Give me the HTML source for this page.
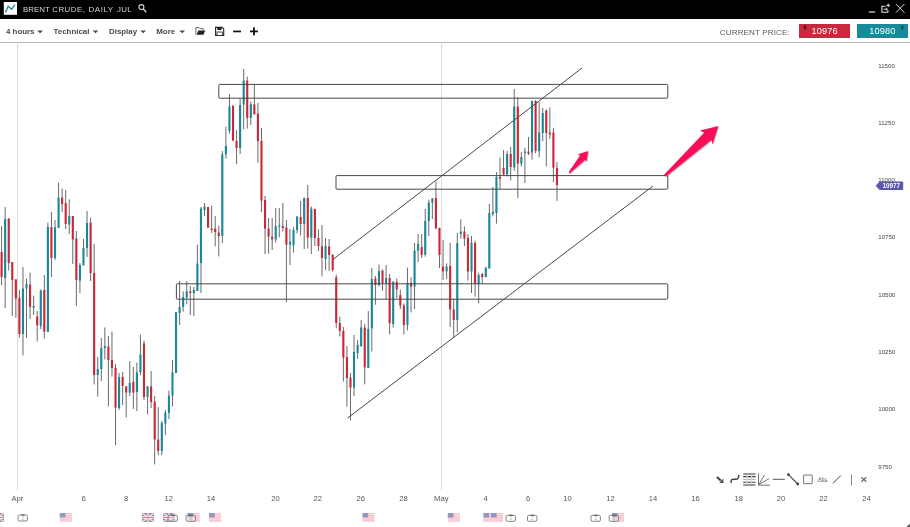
<!DOCTYPE html>
<html><head><meta charset="utf-8"><title>Brent Crude</title>
<style>
html,body{margin:0;padding:0;background:#fff;}
body{width:910px;height:527px;overflow:hidden;position:relative;opacity:0.999;font-family:"Liberation Sans",sans-serif;}
#hdr{position:absolute;left:0;top:0;width:910px;height:19.4px;background:#000;}
#ttl span{position:absolute;top:4.3px;font-size:7.9px;line-height:11px;color:#d4d4d4;white-space:nowrap;}
#tb{position:absolute;left:0;top:19.4px;width:910px;height:23px;background:#fff;border-bottom:1.3px solid #b9b9b9;}
.mi{position:absolute;top:27px;font-size:7.9px;line-height:10px;font-weight:bold;color:#4a4a4a;white-space:nowrap;}
#cp{position:absolute;left:719.8px;top:27.6px;font-size:8.1px;line-height:10px;color:#5a5a5a;letter-spacing:0.1px;white-space:nowrap;}
.pb{position:absolute;top:23.7px;height:14.1px;width:51.2px;color:#fff;font-size:9.2px;line-height:14.1px;text-align:center;letter-spacing:0.15px;}
svg{position:absolute;left:0;top:0;}
svg text{font-family:"Liberation Sans",sans-serif;}
</style></head><body>
<div id="hdr"></div>
<div id="ttl"><span style="left:23px">BRENT</span><span style="left:52.2px;letter-spacing:0.5px">CRUDE,</span><span style="left:88.5px;letter-spacing:0.6px">DAILY</span><span style="left:116.9px;letter-spacing:0.4px">JUL</span></div>
<div id="tb"></div>
<div class="mi" style="left:6px">4 hours</div>
<div class="mi" style="left:53.6px">Technical</div>
<div class="mi" style="left:109px">Display</div>
<div class="mi" style="left:156.3px">More</div>
<div id="cp">CURRENT PRICE:</div>
<div class="pb" style="left:799px;background:#c9293d;">10976</div>
<div class="pb" style="left:856.7px;background:#188b9b;">10980</div>
<svg width="910" height="527" viewBox="0 0 910 527">
<!-- logo -->
<rect x="3.8" y="2" width="13.2" height="12.8" fill="#fff"/>
<path d="M5.4 12.5L8.2 6.3L11.7 9.2L15 4.5" fill="none" stroke="#17899b" stroke-width="1.3"/>
<!-- search -->
<circle cx="141.4" cy="7.1" r="2.5" fill="none" stroke="#d4d4d4" stroke-width="1.1"/>
<path d="M143.3 9.1L146.3 12.2" stroke="#d4d4d4" stroke-width="1.4"/>
<!-- window controls -->
<path d="M868.8 12H875.2" stroke="#ddd" stroke-width="1.2"/>
<path d="M885.5 6.3H881.9V12.2H887.9V10.2" fill="none" stroke="#ddd" stroke-width="1.1"/>
<path d="M883.6 9.2H887.2M885.9 7.8L887.4 9.2L885.9 10.6" fill="none" stroke="#ddd" stroke-width="1"/>
<path d="M888.2 3.6V7.2M886.4 5.4H890" stroke="#ddd" stroke-width="1"/>
<path d="M896 4.1L904.4 12.6M904.4 4.1L896 12.6" stroke="#ddd" stroke-width="1"/>
<!-- carets -->
<g fill="#4a4a4a"><path d="M37.2 30.4H43L40.1 33.3Z"/><path d="M92.6 30.4H98.4L95.5 33.3Z"/><path d="M140.3 30.4H146.1L143.2 33.3Z"/><path d="M179.3 30.4H185.1L182.2 33.3Z"/></g>
<!-- folder -->
<path d="M195.9 34.6V27.6H199L199.9 28.6H203.2V30" fill="none" stroke="#555" stroke-width="0.9"/>
<path d="M196.6 34.8L198.3 30.6H205.3L203.4 34.8Z" fill="#222"/>
<!-- save -->
<path d="M215.6 27.4H222.2L223.7 28.9V35.4H215.6Z" fill="#fff" stroke="#222" stroke-width="1.1"/>
<rect x="217.3" y="27.4" width="4.3" height="2.6" fill="#222"/>
<rect x="217" y="32" width="5.3" height="3.4" fill="#fff" stroke="#222" stroke-width="0.8"/>
<!-- minus plus -->
<rect x="233.1" y="30.6" width="7.9" height="1.7" fill="#111"/>
<rect x="250" y="30.5" width="7.9" height="1.8" fill="#111"/><rect x="253.05" y="27.3" width="1.8" height="8.1" fill="#111"/>
<!-- price box arrows -->
<path d="M804.2 25V27.2H802.9L805 29.7L807.1 27.2H805.8V25Z" fill="#5a1520"/>
<path d="M901.5 30V27.6H900.2L902.3 25L904.4 27.6H903.1V30Z" fill="#0d4a55"/>
<!-- grid lines -->
<rect x="17" y="43.5" width="1" height="447" fill="#dcdcdc"/>
<rect x="441" y="43.5" width="1" height="447" fill="#dcdcdc"/>
<!-- candles -->
<g fill="#6a6a6a"><rect x="1.10" y="226.0" width="1" height="59.0"/><rect x="4.66" y="207.0" width="1" height="101.0"/><rect x="8.22" y="218.0" width="1" height="52.6"/><rect x="11.78" y="262.0" width="1" height="54.0"/><rect x="15.34" y="279.0" width="1" height="38.6"/><rect x="18.90" y="290.0" width="1" height="47.6"/><rect x="22.46" y="267.0" width="1" height="88.6"/><rect x="26.02" y="278.6" width="1" height="59.4"/><rect x="29.58" y="272.6" width="1" height="46.4"/><rect x="33.14" y="295.6" width="1" height="19.4"/><rect x="36.70" y="311.0" width="1" height="30.6"/><rect x="40.26" y="289.4" width="1" height="39.6"/><rect x="43.82" y="275.0" width="1" height="63.6"/><rect x="47.38" y="222.6" width="1" height="109.4"/><rect x="50.94" y="212.0" width="1" height="65.0"/><rect x="54.50" y="220.0" width="1" height="40.0"/><rect x="58.06" y="182.6" width="1" height="45.4"/><rect x="61.62" y="188.6" width="1" height="23.4"/><rect x="65.18" y="190.0" width="1" height="39.0"/><rect x="68.74" y="199.4" width="1" height="34.6"/><rect x="72.30" y="216.0" width="1" height="48.0"/><rect x="75.86" y="231.0" width="1" height="75.0"/><rect x="79.42" y="263.0" width="1" height="30.0"/><rect x="82.98" y="239.0" width="1" height="26.4"/><rect x="86.54" y="211.0" width="1" height="46.0"/><rect x="90.10" y="217.6" width="1" height="63.4"/><rect x="93.66" y="244.0" width="1" height="140.4"/><rect x="97.22" y="357.0" width="1" height="39.6"/><rect x="100.78" y="338.0" width="1" height="43.0"/><rect x="104.34" y="327.4" width="1" height="32.0"/><rect x="107.90" y="336.0" width="1" height="70.4"/><rect x="111.46" y="331.6" width="1" height="45.0"/><rect x="115.02" y="364.0" width="1" height="81.0"/><rect x="118.58" y="373.0" width="1" height="37.0"/><rect x="122.14" y="372.0" width="1" height="33.0"/><rect x="125.70" y="386.0" width="1" height="31.4"/><rect x="129.26" y="361.0" width="1" height="35.0"/><rect x="132.82" y="367.0" width="1" height="42.0"/><rect x="136.38" y="362.6" width="1" height="48.4"/><rect x="139.94" y="334.6" width="1" height="40.4"/><rect x="143.50" y="340.6" width="1" height="59.4"/><rect x="147.06" y="386.0" width="1" height="28.4"/><rect x="150.62" y="371.0" width="1" height="37.0"/><rect x="154.18" y="396.0" width="1" height="68.4"/><rect x="157.74" y="407.0" width="1" height="48.0"/><rect x="161.30" y="421.0" width="1" height="34.0"/><rect x="164.86" y="410.0" width="1" height="25.0"/><rect x="168.42" y="390.6" width="1" height="28.4"/><rect x="171.98" y="360.0" width="1" height="46.6"/><rect x="175.54" y="312.0" width="1" height="61.0"/><rect x="179.10" y="281.0" width="1" height="44.0"/><rect x="182.66" y="291.4" width="1" height="20.2"/><rect x="186.22" y="281.0" width="1" height="23.4"/><rect x="189.78" y="286.0" width="1" height="29.0"/><rect x="193.34" y="287.0" width="1" height="29.0"/><rect x="196.90" y="244.6" width="1" height="46.4"/><rect x="200.46" y="207.0" width="1" height="86.0"/><rect x="204.02" y="203.0" width="1" height="13.0"/><rect x="207.58" y="207.0" width="1" height="21.0"/><rect x="211.14" y="205.6" width="1" height="27.4"/><rect x="214.70" y="216.0" width="1" height="30.4"/><rect x="218.26" y="225.6" width="1" height="30.8"/><rect x="221.82" y="151.0" width="1" height="92.0"/><rect x="225.38" y="126.6" width="1" height="32.0"/><rect x="228.94" y="94.0" width="1" height="39.6"/><rect x="232.50" y="105.0" width="1" height="36.0"/><rect x="236.06" y="130.0" width="1" height="34.0"/><rect x="239.62" y="98.4" width="1" height="55.6"/><rect x="243.18" y="69.0" width="1" height="60.4"/><rect x="246.74" y="76.6" width="1" height="52.0"/><rect x="250.30" y="101.6" width="1" height="23.4"/><rect x="253.86" y="84.0" width="1" height="31.0"/><rect x="257.42" y="103.0" width="1" height="59.6"/><rect x="260.98" y="128.0" width="1" height="84.0"/><rect x="264.54" y="196.0" width="1" height="58.0"/><rect x="268.10" y="218.0" width="1" height="35.6"/><rect x="271.66" y="218.0" width="1" height="32.0"/><rect x="275.22" y="208.0" width="1" height="34.6"/><rect x="278.78" y="208.0" width="1" height="29.4"/><rect x="282.34" y="203.0" width="1" height="28.6"/><rect x="285.90" y="220.0" width="1" height="82.4"/><rect x="289.46" y="229.0" width="1" height="36.0"/><rect x="293.02" y="227.0" width="1" height="25.6"/><rect x="296.58" y="216.0" width="1" height="17.4"/><rect x="300.14" y="201.0" width="1" height="34.6"/><rect x="303.70" y="197.4" width="1" height="51.6"/><rect x="307.26" y="185.0" width="1" height="63.6"/><rect x="310.82" y="206.6" width="1" height="47.4"/><rect x="314.38" y="208.6" width="1" height="37.4"/><rect x="317.94" y="229.4" width="1" height="21.6"/><rect x="321.50" y="225.0" width="1" height="51.4"/><rect x="325.06" y="238.0" width="1" height="32.0"/><rect x="328.62" y="239.0" width="1" height="32.0"/><rect x="332.18" y="254.0" width="1" height="17.6"/><rect x="335.74" y="274.6" width="1" height="53.8"/><rect x="339.30" y="316.6" width="1" height="19.8"/><rect x="342.86" y="327.0" width="1" height="54.6"/><rect x="346.42" y="346.0" width="1" height="60.6"/><rect x="349.98" y="373.0" width="1" height="47.4"/><rect x="353.54" y="335.0" width="1" height="61.0"/><rect x="357.10" y="340.0" width="1" height="19.0"/><rect x="360.66" y="320.0" width="1" height="27.0"/><rect x="364.22" y="324.0" width="1" height="60.4"/><rect x="367.78" y="311.0" width="1" height="57.0"/><rect x="371.34" y="268.0" width="1" height="83.6"/><rect x="374.90" y="276.0" width="1" height="28.6"/><rect x="378.46" y="264.6" width="1" height="22.0"/><rect x="382.02" y="269.4" width="1" height="21.2"/><rect x="385.58" y="265.0" width="1" height="34.4"/><rect x="389.14" y="274.0" width="1" height="60.4"/><rect x="392.70" y="281.0" width="1" height="46.6"/><rect x="396.26" y="278.6" width="1" height="19.4"/><rect x="399.82" y="289.4" width="1" height="19.6"/><rect x="403.38" y="303.4" width="1" height="31.0"/><rect x="406.94" y="267.6" width="1" height="62.8"/><rect x="410.50" y="277.4" width="1" height="35.0"/><rect x="414.06" y="243.0" width="1" height="66.0"/><rect x="417.62" y="234.0" width="1" height="28.0"/><rect x="421.18" y="234.0" width="1" height="24.0"/><rect x="424.74" y="209.0" width="1" height="47.6"/><rect x="428.30" y="199.6" width="1" height="36.4"/><rect x="431.86" y="198.0" width="1" height="21.0"/><rect x="435.42" y="181.6" width="1" height="47.4"/><rect x="438.98" y="227.6" width="1" height="40.4"/><rect x="442.54" y="240.0" width="1" height="40.0"/><rect x="446.10" y="263.4" width="1" height="15.6"/><rect x="449.66" y="243.0" width="1" height="84.0"/><rect x="453.22" y="298.6" width="1" height="39.0"/><rect x="456.78" y="233.0" width="1" height="99.4"/><rect x="460.34" y="219.4" width="1" height="19.2"/><rect x="463.90" y="226.4" width="1" height="19.6"/><rect x="467.46" y="234.0" width="1" height="46.6"/><rect x="471.02" y="236.0" width="1" height="57.0"/><rect x="474.58" y="240.6" width="1" height="56.0"/><rect x="478.14" y="272.6" width="1" height="30.8"/><rect x="481.70" y="273.0" width="1" height="11.0"/><rect x="485.26" y="266.6" width="1" height="10.8"/><rect x="488.82" y="204.0" width="1" height="64.6"/><rect x="492.38" y="187.0" width="1" height="29.4"/><rect x="495.94" y="172.0" width="1" height="51.6"/><rect x="499.50" y="157.5" width="1" height="31.5"/><rect x="503.06" y="150.0" width="1" height="25.0"/><rect x="506.62" y="151.0" width="1" height="25.4"/><rect x="510.18" y="147.0" width="1" height="33.4"/><rect x="513.74" y="89.0" width="1" height="81.6"/><rect x="517.30" y="97.4" width="1" height="100.6"/><rect x="520.86" y="152.0" width="1" height="14.6"/><rect x="524.42" y="147.7" width="1" height="35.3"/><rect x="527.98" y="137.0" width="1" height="18.0"/><rect x="531.54" y="100.6" width="1" height="59.0"/><rect x="535.10" y="100.0" width="1" height="53.3"/><rect x="538.66" y="102.0" width="1" height="55.4"/><rect x="542.22" y="108.0" width="1" height="33.2"/><rect x="545.78" y="109.4" width="1" height="57.0"/><rect x="549.34" y="107.4" width="1" height="31.6"/><rect x="552.90" y="128.0" width="1" height="54.4"/><rect x="556.46" y="162.0" width="1" height="39.0"/></g>
<g><rect x="0.55" y="252.0" width="2.1" height="25.0" fill="#cc2637"/><rect x="4.11" y="219.0" width="2.1" height="59.0" fill="#17899b"/><rect x="7.67" y="218.6" width="2.1" height="44.4" fill="#cc2637"/><rect x="11.23" y="262.0" width="2.1" height="18.0" fill="#cc2637"/><rect x="14.79" y="279.5" width="2.1" height="19.1" fill="#cc2637"/><rect x="18.35" y="298.0" width="2.1" height="36.0" fill="#cc2637"/><rect x="21.91" y="288.6" width="2.1" height="45.4" fill="#17899b"/><rect x="25.47" y="284.0" width="2.1" height="4.6" fill="#17899b"/><rect x="29.03" y="284.6" width="2.1" height="22.4" fill="#cc2637"/><rect x="32.59" y="306.0" width="2.1" height="1.6" fill="#17899b"/><rect x="36.15" y="316.4" width="2.1" height="9.0" fill="#cc2637"/><rect x="39.71" y="290.6" width="2.1" height="35.4" fill="#17899b"/><rect x="43.27" y="290.0" width="2.1" height="41.6" fill="#cc2637"/><rect x="46.83" y="227.0" width="2.1" height="105.0" fill="#17899b"/><rect x="50.39" y="227.0" width="2.1" height="31.0" fill="#cc2637"/><rect x="53.95" y="227.4" width="2.1" height="30.6" fill="#17899b"/><rect x="57.51" y="197.6" width="2.1" height="30.4" fill="#17899b"/><rect x="61.07" y="197.6" width="2.1" height="6.4" fill="#cc2637"/><rect x="64.63" y="203.0" width="2.1" height="21.0" fill="#cc2637"/><rect x="68.19" y="216.0" width="2.1" height="8.6" fill="#17899b"/><rect x="71.75" y="216.0" width="2.1" height="23.4" fill="#cc2637"/><rect x="75.31" y="238.6" width="2.1" height="41.4" fill="#cc2637"/><rect x="78.87" y="265.0" width="2.1" height="15.6" fill="#17899b"/><rect x="82.43" y="248.0" width="2.1" height="17.4" fill="#17899b"/><rect x="85.99" y="223.0" width="2.1" height="25.0" fill="#17899b"/><rect x="89.55" y="222.6" width="2.1" height="50.4" fill="#cc2637"/><rect x="93.11" y="273.0" width="2.1" height="102.0" fill="#cc2637"/><rect x="96.67" y="369.0" width="2.1" height="6.0" fill="#17899b"/><rect x="100.23" y="348.0" width="2.1" height="21.0" fill="#17899b"/><rect x="103.79" y="346.0" width="2.1" height="2.0" fill="#17899b"/><rect x="107.35" y="346.6" width="2.1" height="13.4" fill="#cc2637"/><rect x="110.91" y="360.0" width="2.1" height="8.0" fill="#cc2637"/><rect x="114.47" y="368.0" width="2.1" height="39.6" fill="#cc2637"/><rect x="118.03" y="377.0" width="2.1" height="31.0" fill="#17899b"/><rect x="121.59" y="377.0" width="2.1" height="9.0" fill="#cc2637"/><rect x="125.15" y="386.4" width="2.1" height="6.2" fill="#cc2637"/><rect x="128.71" y="383.0" width="2.1" height="9.6" fill="#17899b"/><rect x="132.27" y="382.0" width="2.1" height="10.6" fill="#cc2637"/><rect x="135.83" y="372.4" width="2.1" height="19.6" fill="#17899b"/><rect x="139.39" y="354.6" width="2.1" height="17.8" fill="#17899b"/><rect x="142.95" y="343.4" width="2.1" height="53.6" fill="#cc2637"/><rect x="146.51" y="386.4" width="2.1" height="10.6" fill="#17899b"/><rect x="150.07" y="386.4" width="2.1" height="15.6" fill="#cc2637"/><rect x="153.63" y="401.6" width="2.1" height="38.0" fill="#cc2637"/><rect x="157.19" y="439.6" width="2.1" height="11.4" fill="#cc2637"/><rect x="160.75" y="423.0" width="2.1" height="28.0" fill="#17899b"/><rect x="164.31" y="412.6" width="2.1" height="11.0" fill="#17899b"/><rect x="167.87" y="395.6" width="2.1" height="17.4" fill="#17899b"/><rect x="171.43" y="372.4" width="2.1" height="23.2" fill="#17899b"/><rect x="174.99" y="312.4" width="2.1" height="60.6" fill="#17899b"/><rect x="178.55" y="307.0" width="2.1" height="6.0" fill="#17899b"/><rect x="182.11" y="297.0" width="2.1" height="10.0" fill="#17899b"/><rect x="185.67" y="291.4" width="2.1" height="6.0" fill="#17899b"/><rect x="189.23" y="291.4" width="2.1" height="1.6" fill="#cc2637"/><rect x="192.79" y="290.0" width="2.1" height="3.0" fill="#17899b"/><rect x="196.35" y="263.6" width="2.1" height="27.4" fill="#17899b"/><rect x="199.91" y="208.6" width="2.1" height="54.4" fill="#17899b"/><rect x="203.47" y="206.6" width="2.1" height="3.4" fill="#17899b"/><rect x="207.03" y="207.0" width="2.1" height="20.6" fill="#cc2637"/><rect x="210.59" y="228.6" width="2.1" height="1.4" fill="#cc2637"/><rect x="214.15" y="228.6" width="2.1" height="3.4" fill="#cc2637"/><rect x="217.71" y="232.6" width="2.1" height="3.4" fill="#cc2637"/><rect x="221.27" y="154.4" width="2.1" height="81.6" fill="#17899b"/><rect x="224.83" y="146.0" width="2.1" height="8.4" fill="#17899b"/><rect x="228.39" y="106.4" width="2.1" height="24.6" fill="#17899b"/><rect x="231.95" y="106.0" width="2.1" height="34.6" fill="#cc2637"/><rect x="235.51" y="141.0" width="2.1" height="7.0" fill="#cc2637"/><rect x="239.07" y="105.0" width="2.1" height="43.0" fill="#17899b"/><rect x="242.63" y="80.6" width="2.1" height="23.8" fill="#17899b"/><rect x="246.19" y="80.6" width="2.1" height="37.4" fill="#cc2637"/><rect x="249.75" y="104.4" width="2.1" height="13.6" fill="#17899b"/><rect x="253.31" y="104.4" width="2.1" height="9.6" fill="#cc2637"/><rect x="256.87" y="113.6" width="2.1" height="27.4" fill="#cc2637"/><rect x="260.43" y="141.0" width="2.1" height="59.6" fill="#cc2637"/><rect x="263.99" y="200.0" width="2.1" height="28.6" fill="#cc2637"/><rect x="267.55" y="228.6" width="2.1" height="8.0" fill="#cc2637"/><rect x="271.11" y="236.6" width="2.1" height="2.8" fill="#cc2637"/><rect x="274.67" y="226.0" width="2.1" height="13.4" fill="#17899b"/><rect x="278.23" y="225.4" width="2.1" height="1.2" fill="#17899b"/><rect x="281.79" y="226.0" width="2.1" height="2.0" fill="#cc2637"/><rect x="285.35" y="227.4" width="2.1" height="17.2" fill="#cc2637"/><rect x="288.91" y="241.6" width="2.1" height="3.0" fill="#17899b"/><rect x="292.47" y="230.0" width="2.1" height="15.4" fill="#17899b"/><rect x="296.03" y="216.6" width="2.1" height="13.4" fill="#17899b"/><rect x="299.59" y="217.0" width="2.1" height="7.0" fill="#cc2637"/><rect x="303.15" y="198.0" width="2.1" height="26.0" fill="#17899b"/><rect x="306.71" y="198.0" width="2.1" height="39.6" fill="#cc2637"/><rect x="310.27" y="208.6" width="2.1" height="29.0" fill="#17899b"/><rect x="313.83" y="209.0" width="2.1" height="29.0" fill="#cc2637"/><rect x="317.39" y="238.0" width="2.1" height="8.0" fill="#cc2637"/><rect x="320.95" y="246.4" width="2.1" height="11.6" fill="#cc2637"/><rect x="324.51" y="246.0" width="2.1" height="13.0" fill="#17899b"/><rect x="328.07" y="246.4" width="2.1" height="8.6" fill="#cc2637"/><rect x="331.63" y="255.0" width="2.1" height="15.0" fill="#cc2637"/><rect x="335.19" y="277.4" width="2.1" height="45.6" fill="#cc2637"/><rect x="338.75" y="323.0" width="2.1" height="8.0" fill="#cc2637"/><rect x="342.31" y="331.0" width="2.1" height="26.6" fill="#cc2637"/><rect x="345.87" y="357.0" width="2.1" height="21.0" fill="#cc2637"/><rect x="349.43" y="377.6" width="2.1" height="10.0" fill="#cc2637"/><rect x="352.99" y="352.0" width="2.1" height="35.6" fill="#17899b"/><rect x="356.55" y="345.0" width="2.1" height="8.0" fill="#17899b"/><rect x="360.11" y="327.6" width="2.1" height="18.4" fill="#17899b"/><rect x="363.67" y="327.6" width="2.1" height="39.8" fill="#cc2637"/><rect x="367.23" y="329.0" width="2.1" height="39.0" fill="#17899b"/><rect x="370.79" y="279.0" width="2.1" height="49.4" fill="#17899b"/><rect x="374.35" y="278.6" width="2.1" height="6.4" fill="#cc2637"/><rect x="377.91" y="271.0" width="2.1" height="14.0" fill="#17899b"/><rect x="381.47" y="270.6" width="2.1" height="12.4" fill="#cc2637"/><rect x="385.03" y="278.0" width="2.1" height="5.0" fill="#17899b"/><rect x="388.59" y="278.0" width="2.1" height="45.0" fill="#cc2637"/><rect x="392.15" y="282.0" width="2.1" height="42.0" fill="#17899b"/><rect x="395.71" y="282.0" width="2.1" height="7.4" fill="#cc2637"/><rect x="399.27" y="295.0" width="2.1" height="10.6" fill="#cc2637"/><rect x="402.83" y="305.6" width="2.1" height="19.4" fill="#cc2637"/><rect x="406.39" y="283.0" width="2.1" height="42.0" fill="#17899b"/><rect x="409.95" y="283.0" width="2.1" height="3.6" fill="#cc2637"/><rect x="413.51" y="250.6" width="2.1" height="36.0" fill="#17899b"/><rect x="417.07" y="244.0" width="2.1" height="6.6" fill="#17899b"/><rect x="420.63" y="247.0" width="2.1" height="8.0" fill="#cc2637"/><rect x="424.19" y="221.0" width="2.1" height="33.6" fill="#17899b"/><rect x="427.75" y="202.6" width="2.1" height="18.4" fill="#17899b"/><rect x="431.31" y="198.6" width="2.1" height="4.0" fill="#17899b"/><rect x="434.87" y="198.0" width="2.1" height="30.4" fill="#cc2637"/><rect x="438.43" y="228.0" width="2.1" height="27.0" fill="#cc2637"/><rect x="441.99" y="266.6" width="2.1" height="4.8" fill="#cc2637"/><rect x="445.55" y="266.6" width="2.1" height="4.8" fill="#17899b"/><rect x="449.11" y="266.0" width="2.1" height="43.4" fill="#cc2637"/><rect x="452.67" y="309.4" width="2.1" height="10.6" fill="#cc2637"/><rect x="456.23" y="243.0" width="2.1" height="77.0" fill="#17899b"/><rect x="459.79" y="231.6" width="2.1" height="2.4" fill="#17899b"/><rect x="463.35" y="231.6" width="2.1" height="7.0" fill="#cc2637"/><rect x="466.91" y="238.0" width="2.1" height="33.4" fill="#cc2637"/><rect x="470.47" y="243.0" width="2.1" height="28.4" fill="#17899b"/><rect x="474.03" y="243.0" width="2.1" height="41.0" fill="#cc2637"/><rect x="477.59" y="275.0" width="2.1" height="9.4" fill="#17899b"/><rect x="481.15" y="274.0" width="2.1" height="3.0" fill="#cc2637"/><rect x="484.71" y="268.0" width="2.1" height="9.0" fill="#17899b"/><rect x="488.27" y="213.0" width="2.1" height="55.6" fill="#17899b"/><rect x="491.83" y="212.0" width="2.1" height="2.0" fill="#17899b"/><rect x="495.39" y="177.0" width="2.1" height="36.0" fill="#17899b"/><rect x="498.95" y="177.0" width="2.1" height="1.6" fill="#cc2637"/><rect x="502.51" y="168.0" width="2.1" height="6.4" fill="#cc2637"/><rect x="506.07" y="154.0" width="2.1" height="20.4" fill="#17899b"/><rect x="509.63" y="154.0" width="2.1" height="13.0" fill="#cc2637"/><rect x="513.19" y="106.6" width="2.1" height="61.0" fill="#17899b"/><rect x="516.75" y="106.6" width="2.1" height="57.0" fill="#cc2637"/><rect x="520.31" y="157.0" width="2.1" height="6.6" fill="#17899b"/><rect x="523.87" y="151.6" width="2.1" height="1.4" fill="#17899b"/><rect x="527.43" y="151.6" width="2.1" height="2.0" fill="#cc2637"/><rect x="530.99" y="101.0" width="2.1" height="51.5" fill="#17899b"/><rect x="534.55" y="101.0" width="2.1" height="49.8" fill="#cc2637"/><rect x="538.11" y="132.5" width="2.1" height="18.5" fill="#17899b"/><rect x="541.67" y="113.0" width="2.1" height="20.0" fill="#17899b"/><rect x="545.23" y="110.6" width="2.1" height="22.4" fill="#cc2637"/><rect x="548.79" y="132.6" width="2.1" height="1.8" fill="#cc2637"/><rect x="552.35" y="132.5" width="2.1" height="35.1" fill="#cc2637"/><rect x="555.91" y="168.0" width="2.1" height="17.0" fill="#cc2637"/></g>
<!-- drawings -->
<g fill="none" stroke="#484848" stroke-width="1">
<rect x="218.8" y="84.4" width="449" height="13.8" rx="1"/>
<rect x="336" y="175.6" width="331.8" height="13.6" rx="1"/>
<rect x="176.4" y="283.8" width="491.4" height="15.4" rx="1"/>
<path d="M333 259.4L582 68"/>
<path d="M347.6 418L653 186"/>
</g>
<!-- arrows -->
<g fill="#fb1059" filter="url(#sh)">
<path d="M568.6 172.2L580 155.4L578 154.2L588.2 151L586.6 161.3L584.9 159.9L569.8 173.2Z"/>
<path d="M663.8 174.9L704.3 132.6L700.1 130.5L718.3 125.9L712.6 144.3L711.4 140.1L666.2 176.2Z"/>
</g>
<defs><filter id="sh" x="-20%" y="-20%" width="140%" height="140%"><feDropShadow dx="0.6" dy="0.8" stdDeviation="0.6" flood-color="#000" flood-opacity="0.35"/></filter></defs>
<!-- price axis -->
<g font-size="6.1" fill="#444"><text x="878.3" y="67.6">11500</text><text x="878.3" y="124.8">11250</text><text x="878.3" y="182.0">11000</text><text x="878.3" y="239.4">10750</text><text x="878.3" y="296.8">10500</text><text x="878.3" y="354.2">10250</text><text x="878.3" y="411.4">10000</text><text x="878.3" y="468.8">9750</text></g>
<path d="M875.6 185.8L879.6 181.6H902.2Q903.2 181.6 903.2 182.6V189Q903.2 190 902.2 190H879.6Z" fill="#5b5aa8"/>
<text x="891.3" y="188.2" font-size="6.3" font-weight="bold" fill="#fff" text-anchor="middle">10977</text>
<!-- date axis -->
<g font-size="7.6" fill="#555" text-anchor="middle"><text x="17.3" y="501.2">Apr</text><text x="83.5" y="501.2">6</text><text x="126" y="501.2">8</text><text x="168.7" y="501.2">12</text><text x="211" y="501.2">14</text><text x="275.5" y="501.2">20</text><text x="317.8" y="501.2">22</text><text x="360.8" y="501.2">26</text><text x="403.5" y="501.2">28</text><text x="441.3" y="501.2">May</text><text x="485.5" y="501.2">4</text><text x="528" y="501.2">6</text><text x="567.5" y="501.2">10</text><text x="610.4" y="501.2">12</text><text x="653" y="501.2">14</text><text x="695.5" y="501.2">16</text><text x="738.8" y="501.2">18</text><text x="781" y="501.2">20</text><text x="823.6" y="501.2">22</text><text x="866.4" y="501.2">24</text></g>
<!-- flags -->
<g opacity="0.62" transform="translate(-8,513)"><clipPath id="c-8"><rect width="12" height="9"/></clipPath><g clip-path="url(#c-8)"><rect width="12" height="9" fill="#2d3a7a"/><path d="M0 0L12 9M12 0L0 9" stroke="#fff" stroke-width="1.7"/><path d="M0 0L12 9M12 0L0 9" stroke="#d8304a" stroke-width="0.6"/><path d="M6 0V9M0 4.5H12" stroke="#fff" stroke-width="2.4"/><path d="M6 0V9M0 4.5H12" stroke="#d8304a" stroke-width="1.1"/></g></g><g transform="translate(17.5,514.5)"><rect x="0.5" y="0.5" width="9.4" height="6" rx="1.3" fill="#fff" fill-opacity="0.25" stroke="#777" stroke-width="0.9"/><path d="M3.6 0.5H7" stroke="#555" stroke-width="1"/><text x="5.3" y="5.6" font-size="4.8" fill="#b5b5b5" text-anchor="middle">2</text></g><g transform="translate(59.8,513)"><rect width="12" height="9" fill="#f8c3c9"/><rect y="1.1" width="12" height="0.9" fill="#fbdfe2"/><rect y="3.3" width="12" height="0.9" fill="#fbdfe2"/><rect y="5.5" width="12" height="0.9" fill="#fbdfe2"/><rect y="7.7" width="12" height="0.9" fill="#fbdfe2"/><rect width="5.7" height="4.5" fill="#9199bf"/></g><g opacity="0.62" transform="translate(142,513)"><clipPath id="c142"><rect width="12" height="9"/></clipPath><g clip-path="url(#c142)"><rect width="12" height="9" fill="#2d3a7a"/><path d="M0 0L12 9M12 0L0 9" stroke="#fff" stroke-width="1.7"/><path d="M0 0L12 9M12 0L0 9" stroke="#d8304a" stroke-width="0.6"/><path d="M6 0V9M0 4.5H12" stroke="#fff" stroke-width="2.4"/><path d="M6 0V9M0 4.5H12" stroke="#d8304a" stroke-width="1.1"/></g></g><g opacity="0.62" transform="translate(163,513)"><clipPath id="c163"><rect width="12" height="9"/></clipPath><g clip-path="url(#c163)"><rect width="12" height="9" fill="#2d3a7a"/><path d="M0 0L12 9M12 0L0 9" stroke="#fff" stroke-width="1.7"/><path d="M0 0L12 9M12 0L0 9" stroke="#d8304a" stroke-width="0.6"/><path d="M6 0V9M0 4.5H12" stroke="#fff" stroke-width="2.4"/><path d="M6 0V9M0 4.5H12" stroke="#d8304a" stroke-width="1.1"/></g></g><g transform="translate(167.5,514.8)"><rect x="0.5" y="0.5" width="9.4" height="6" rx="1.3" fill="#fff" fill-opacity="0.25" stroke="#777" stroke-width="0.9"/><path d="M3.6 0.5H7" stroke="#555" stroke-width="1"/><text x="5.3" y="5.6" font-size="4.8" fill="#b5b5b5" text-anchor="middle">2</text></g><g transform="translate(187.5,513)"><rect width="12" height="9" fill="#f8c3c9"/><rect y="1.1" width="12" height="0.9" fill="#fbdfe2"/><rect y="3.3" width="12" height="0.9" fill="#fbdfe2"/><rect y="5.5" width="12" height="0.9" fill="#fbdfe2"/><rect y="7.7" width="12" height="0.9" fill="#fbdfe2"/><rect width="5.7" height="4.5" fill="#9199bf"/></g><g transform="translate(185.5,514.8)"><rect x="0.5" y="0.5" width="9.4" height="6" rx="1.3" fill="#fff" fill-opacity="0.25" stroke="#777" stroke-width="0.9"/><path d="M3.6 0.5H7" stroke="#555" stroke-width="1"/><text x="5.3" y="5.6" font-size="4.8" fill="#b5b5b5" text-anchor="middle">2</text></g><g transform="translate(209,513)"><rect width="12" height="9" fill="#f8c3c9"/><rect y="1.1" width="12" height="0.9" fill="#fbdfe2"/><rect y="3.3" width="12" height="0.9" fill="#fbdfe2"/><rect y="5.5" width="12" height="0.9" fill="#fbdfe2"/><rect y="7.7" width="12" height="0.9" fill="#fbdfe2"/><rect width="5.7" height="4.5" fill="#9199bf"/></g><g transform="translate(362.5,513)"><rect width="12" height="9" fill="#f8c3c9"/><rect y="1.1" width="12" height="0.9" fill="#fbdfe2"/><rect y="3.3" width="12" height="0.9" fill="#fbdfe2"/><rect y="5.5" width="12" height="0.9" fill="#fbdfe2"/><rect y="7.7" width="12" height="0.9" fill="#fbdfe2"/><rect width="5.7" height="4.5" fill="#9199bf"/></g><g transform="translate(447.8,513)"><rect width="12" height="9" fill="#f8c3c9"/><rect y="1.1" width="12" height="0.9" fill="#fbdfe2"/><rect y="3.3" width="12" height="0.9" fill="#fbdfe2"/><rect y="5.5" width="12" height="0.9" fill="#fbdfe2"/><rect y="7.7" width="12" height="0.9" fill="#fbdfe2"/><rect width="5.7" height="4.5" fill="#9199bf"/></g><g transform="translate(483.5,513)"><rect width="12" height="9" fill="#f8c3c9"/><rect y="1.1" width="12" height="0.9" fill="#fbdfe2"/><rect y="3.3" width="12" height="0.9" fill="#fbdfe2"/><rect y="5.5" width="12" height="0.9" fill="#fbdfe2"/><rect y="7.7" width="12" height="0.9" fill="#fbdfe2"/><rect width="5.7" height="4.5" fill="#9199bf"/></g><g transform="translate(491,513)"><rect width="12" height="9" fill="#f8c3c9"/><rect y="1.1" width="12" height="0.9" fill="#fbdfe2"/><rect y="3.3" width="12" height="0.9" fill="#fbdfe2"/><rect y="5.5" width="12" height="0.9" fill="#fbdfe2"/><rect y="7.7" width="12" height="0.9" fill="#fbdfe2"/><rect width="5.7" height="4.5" fill="#9199bf"/></g><g transform="translate(505.5,514.8)"><rect x="0.5" y="0.5" width="9.4" height="6" rx="1.3" fill="#fff" fill-opacity="0.25" stroke="#777" stroke-width="0.9"/><path d="M3.6 0.5H7" stroke="#555" stroke-width="1"/><text x="5.3" y="5.6" font-size="4.8" fill="#b5b5b5" text-anchor="middle">2</text></g><g transform="translate(527,514.8)"><rect x="0.5" y="0.5" width="9.4" height="6" rx="1.3" fill="#fff" fill-opacity="0.25" stroke="#777" stroke-width="0.9"/><path d="M3.6 0.5H7" stroke="#555" stroke-width="1"/><text x="5.3" y="5.6" font-size="4.8" fill="#b5b5b5" text-anchor="middle">2</text></g><g transform="translate(590.5,514.8)"><rect x="0.5" y="0.5" width="9.4" height="6" rx="1.3" fill="#fff" fill-opacity="0.25" stroke="#777" stroke-width="0.9"/><path d="M3.6 0.5H7" stroke="#555" stroke-width="1"/><text x="5.3" y="5.6" font-size="4.8" fill="#b5b5b5" text-anchor="middle">2</text></g><g transform="translate(612,513)"><rect width="12" height="9" fill="#f8c3c9"/><rect y="1.1" width="12" height="0.9" fill="#fbdfe2"/><rect y="3.3" width="12" height="0.9" fill="#fbdfe2"/><rect y="5.5" width="12" height="0.9" fill="#fbdfe2"/><rect y="7.7" width="12" height="0.9" fill="#fbdfe2"/><rect width="5.7" height="4.5" fill="#9199bf"/></g><g transform="translate(608.7,514.8)"><rect x="0.5" y="0.5" width="9.4" height="6" rx="1.3" fill="#fff" fill-opacity="0.25" stroke="#777" stroke-width="0.9"/><path d="M3.6 0.5H7" stroke="#555" stroke-width="1"/><text x="5.3" y="5.6" font-size="4.8" fill="#b5b5b5" text-anchor="middle">2</text></g>
<!-- drawing tools -->
<g stroke="#444" fill="none" stroke-width="1">
<path d="M716.9 476.9L720.8 480.6" stroke-width="2"/><path d="M723.5 483.1L719.2 482.7L723.2 478.8Z" fill="#444" stroke="none"/>
<path d="M731.3 483C730.2 479.6 732.4 478.9 735 479.3C737.6 479.7 738.9 478.4 738.7 475" stroke-width="1.5"/>
<path d="M743.2 474H755.5M743.2 485H755.5" stroke="#777" stroke-width="1.4"/>
<path d="M743.2 476.6H755.5M743.2 482.3H755.5" stroke="#333" stroke-width="1.1" stroke-dasharray="3.4 1.05"/>
<path d="M743.2 479.4H755.5" stroke="#aaa" stroke-width="1" stroke-dasharray="3.4 1.05"/>
<path d="M747.1 474.6V484.4M751.7 474.6V484.4" stroke="#bbb" stroke-width="0.8"/>
<path d="M758.5 473.3V485.2H770M758.6 484.7L764.6 475M758.6 484.7L769 478.7" stroke="#666" stroke-width="0.9"/>
<path d="M772.7 479.3H784.8" stroke="#555" stroke-width="1"/>
<path d="M788.4 474.7L797.8 484" stroke-width="1.1"/><circle cx="788.4" cy="474.7" r="1.4" fill="#444" stroke="none"/><circle cx="797.8" cy="484" r="1.4" fill="#444" stroke="none"/>
<rect x="803.6" y="475" width="8.6" height="8.7" rx="0.3" stroke="#666" stroke-width="0.9"/>
<path d="M817.4 481.5H827.8" stroke="#777" stroke-width="0.6"/>
<path d="M833 483.3L840.9 475.4" stroke="#4a4a4a" stroke-width="1"/>
<path d="M851.5 474.4V485.6" stroke="#777" stroke-width="0.9"/>
<path d="M861.4 477.3L866.3 481.7M866.3 477.3L861.4 481.7" stroke="#666" stroke-width="1.15"/>
</g>
<text x="822.6" y="480.5" font-size="5.3" fill="#666" text-anchor="middle">Abc</text>
<path d="M909.9 523.6L906.6 526.9H909.9Z" fill="#555"/>
</svg>
</body></html>
